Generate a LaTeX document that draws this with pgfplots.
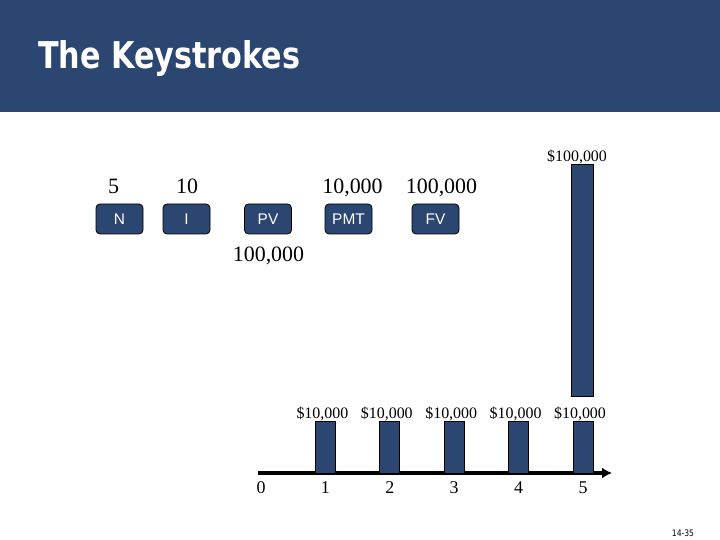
\documentclass[border=0pt]{standalone}
\usepackage{fontspec}
\setmainfont{Liberation Serif}
\newfontfamily\keyfont{Liberation Sans}
\newfontfamily\titlefont{DejaVu Sans}
\usepackage{pgfplots}
\pgfplotsset{compat=1.18}
\usetikzlibrary{arrows.meta}
\definecolor{navy}{RGB}{43,70,112}

\begin{document}
\begin{tikzpicture}
\path[use as bounding box] (0,0) rectangle (720bp,540bp);
% title banner
\fill[navy] (0,428bp) rectangle (720bp,540bp);
\node[anchor=base west, inner sep=0pt, text=white, xscale=0.82,
      font=\titlefont\bfseries\fontsize{37}{40}\selectfont] at (38bp,471bp) {The Keystrokes};

% calculator keys
\foreach \x/\t in {119.5/N,186.5/I,268/PV,348.5/PMT,435.5/FV}
  \node[draw=black, fill=navy, rounded corners=4bp, minimum width=47bp, minimum height=30bp,
        inner sep=0pt, line width=0.8bp, text=white,
        font=\keyfont\fontsize{15.5}{18}\selectfont] at (\x bp,321bp) {\t};

% values keyed in
\foreach \x/\t in {113.5/5,187/10,352.5/{10,000},441.5/{100,000}}
  \node[anchor=base, inner sep=0pt, font=\fontsize{22}{26}\selectfont] at (\x bp,346bp) {\t};
\node[anchor=base, inner sep=0pt, font=\fontsize{22}{26}\selectfont] at (268.5bp,278bp) {100,000};

% page number
\node[anchor=base, inner sep=0pt, xscale=0.85, font=\titlefont\fontsize{9}{10}\selectfont] at (683bp,4bp) {14-35};

% time line
\begin{axis}[
    at={(258bp,67bp)}, anchor=south west,
    scale only axis, width=354bp, height=312bp,
    xmin=-0.0466, xmax=5.45, ymin=0, ymax=60000,
    axis x line=bottom, axis y line=none,
    x axis line style={line width=3bp, -{Latex[length=10bp,width=11bp]}},
    xtick={0,...,5}, ytick=\empty, major tick length=0pt,
    xticklabel style={font=\fontsize{18}{21}\selectfont, yshift=-5bp},
    /pgf/number format/assume math mode=true,
    clip=false,
]
% yearly payments
\addplot[ybar, bar width=20bp, fill=navy, draw=black, line width=0.8bp,
    nodes near coords={\$\pgfmathprintnumber{\pgfplotspointmeta}},
    every node near coord/.append style={font=\fontsize{16}{19}\selectfont,
        anchor=south, inner sep=0pt, text=black, xshift=-3bp}]
    coordinates {(1,10000) (2,10000) (3,10000) (4,10000) (5,10000)};
% face value at maturity (drawn not to scale)
\addplot[fill=navy, draw=black, line width=0.8bp]
    coordinates {(4.814,14800) (5.155,14800) (5.155,59400) (4.814,59400)} -- cycle;
\node[anchor=south, inner sep=0pt, font=\fontsize{16}{19}\selectfont]
    at (axis cs:4.907,59400) {\$100,000};
\end{axis}
\end{tikzpicture}
\end{document}
